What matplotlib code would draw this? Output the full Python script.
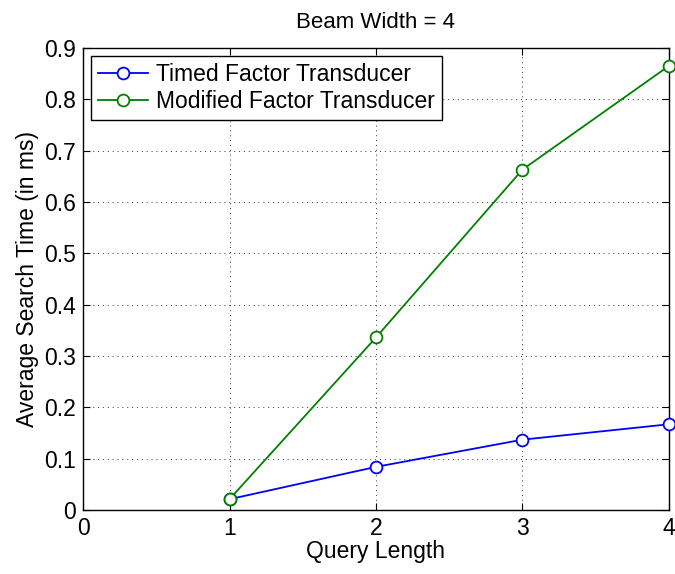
import matplotlib
matplotlib.use("Agg")
import matplotlib.pyplot as plt

query_length = [1, 2, 3, 4]
timed_ft = [0.021, 0.084, 0.137, 0.167]
modified_ft = [0.021, 0.336, 0.663, 0.865]
x_ticks = [0, 1, 2, 3, 4]
y_ticks = [0, 0.1, 0.2, 0.3, 0.4, 0.5, 0.6, 0.7, 0.8, 0.9]

plt.rcParams['font.family'] = ['Liberation Sans', 'DejaVu Sans']
fig = plt.figure(figsize=(6.75, 5.74), dpi=100)
ax = fig.add_axes([0.123, 0.1115, 0.868, 0.805])

ax.plot(query_length, timed_ft, color='#0000ff', marker='o', markersize=8.5,
        markerfacecolor='white', markeredgewidth=1.3, linewidth=1.3,
        label='Timed Factor Transducer', clip_on=False, zorder=3)
ax.plot(query_length, modified_ft, color='#008000', marker='o', markersize=8.5,
        markerfacecolor='white', markeredgewidth=1.3, linewidth=1.3,
        label='Modified Factor Transducer', clip_on=False, zorder=4)

ax.set_xlim(0, 4)
ax.set_ylim(0, 0.9)
ax.set_xticks(x_ticks)
ax.set_yticks(y_ticks)
ax.set_xticklabels([str(v) for v in x_ticks])
ax.set_yticklabels(['0'] + ['%.1f' % v for v in y_ticks[1:]])
ax.tick_params(direction='in', top=True, right=True, labelsize=16.5, length=5, pad=5)
ax.grid(True, linestyle=(0, (1, 4)), color='black', linewidth=0.7, alpha=0.8)
for s in ax.spines.values():
    s.set_linewidth(1.0)

ax.set_xlabel('Query Length', fontsize=16.5, labelpad=0)
ax.set_ylabel('Average Search Time (in ms)', fontsize=16.5, labelpad=4)
ax.set_title('Beam Width = 4', fontsize=16, pad=14)

leg = ax.legend(loc='upper left', fontsize=16.5, frameon=True, fancybox=False,
                edgecolor='black', framealpha=1, borderpad=0.3, labelspacing=0.2,
                handlelength=2.2, handletextpad=0.35, borderaxespad=0.35)
leg.get_frame().set_linewidth(1.0)

fig.savefig('out.png', dpi=100)
